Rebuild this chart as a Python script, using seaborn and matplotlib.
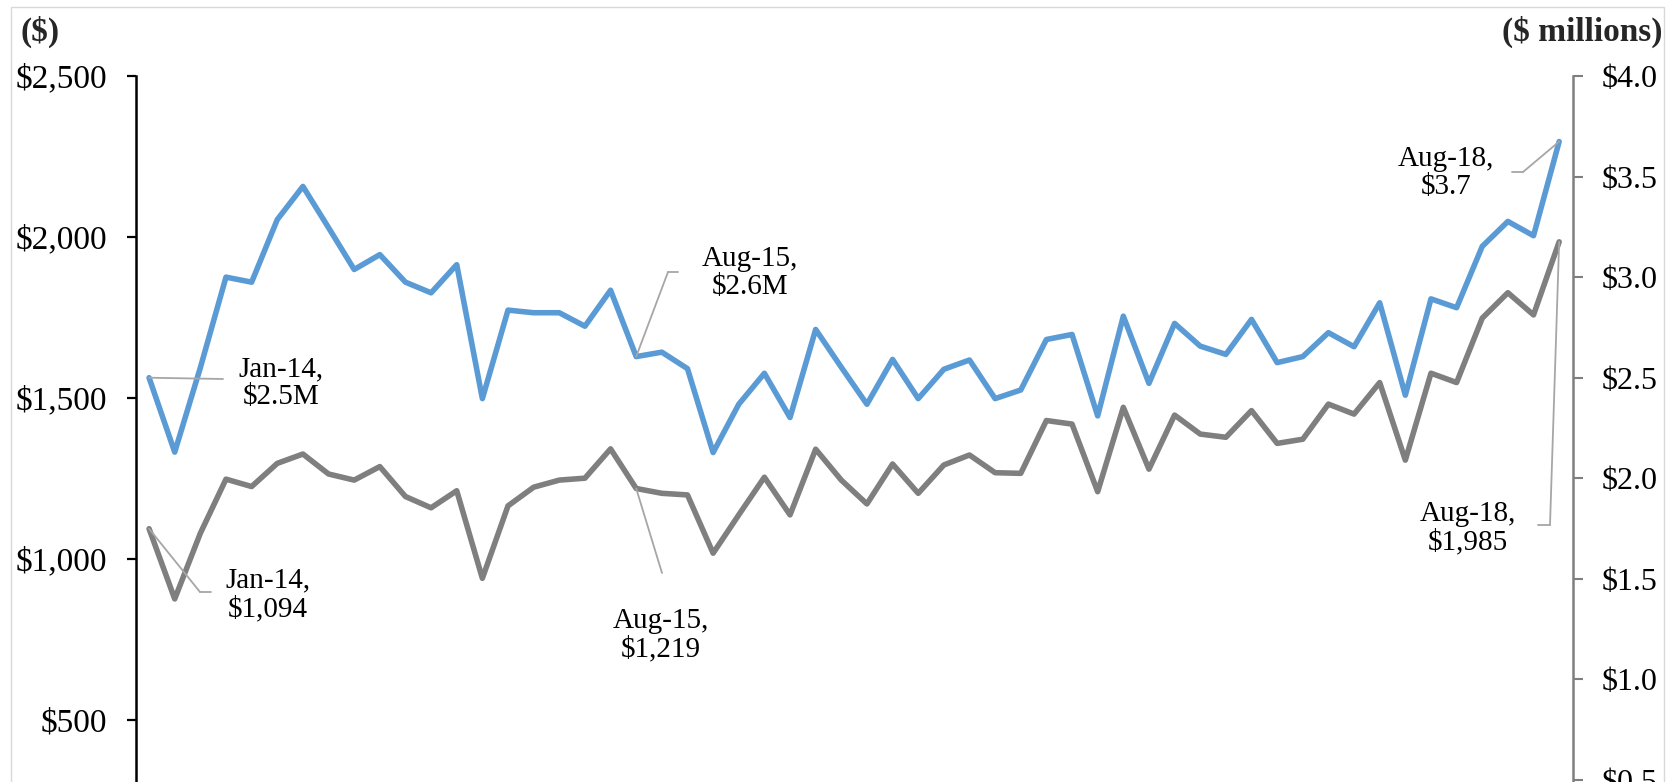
import numpy as np
import pandas as pd
import matplotlib
matplotlib.use("Agg")
import matplotlib.pyplot as plt
from matplotlib.lines import Line2D
from matplotlib.patches import Rectangle
import matplotlib.ticker as mticker
import seaborn as sns

# ---------------- data ----------------
months = pd.date_range("2014-01-01", periods=56, freq="MS").strftime("%b-%y").tolist()

# gray series, left axis ($)
avg_dollars = [1094, 876, 1080, 1248, 1225, 1297, 1326, 1264, 1245, 1287,
               1194, 1159, 1212, 940, 1165, 1223, 1245, 1251, 1342, 1219,
               1204, 1199, 1018, 1137, 1254, 1137, 1341, 1245, 1171, 1295,
               1204, 1292, 1323, 1268, 1266, 1430, 1419, 1209, 1471, 1279,
               1447, 1388, 1378, 1461, 1359, 1372, 1481, 1450, 1548, 1307,
               1577, 1548, 1748, 1827, 1758, 1985]

# blue series, right axis ($ millions)
total_millions = [2.50, 2.13, 2.55, 3.00, 2.975, 3.286, 3.451, 3.246, 3.038, 3.112,
                  2.975, 2.922, 3.062, 2.396, 2.836, 2.823, 2.823, 2.756, 2.935, 2.605,
                  2.627, 2.545, 2.128, 2.368, 2.522, 2.302, 2.740, 2.552, 2.368, 2.591,
                  2.396, 2.542, 2.588, 2.396, 2.439, 2.690, 2.715, 2.310, 2.806, 2.472,
                  2.770, 2.657, 2.616, 2.790, 2.575, 2.605, 2.724, 2.654, 2.8725, 2.413,
                  2.892, 2.848, 3.153, 3.277, 3.206, 3.674]

left_ticks = [500, 1000, 1500, 2000, 2500]
right_ticks = [0.5, 1.0, 1.5, 2.0, 2.5, 3.0, 3.5, 4.0]

# annotations: (series, month label, text, elbow px, tail end px, text center px) in image px (y from top)
annotations = [
    ("blue", "Jan-14", "Jan-14,\n$2.5M", (223, 379), None, (281, 383)),
    ("gray", "Jan-14", "Jan-14,\n$1,094", (200, 592), (211, 592), (268, 595)),
    ("blue", "Aug-15", "Aug-15,\n$2.6M", (668, 272), (678, 272), (750, 273)),
    ("gray", "Aug-15", "Aug-15,\n$1,219", (662, 573), None, (661, 635)),
    ("blue", "Aug-18", "Aug-18,\n$3.7", (1523, 172), (1512, 172), (1446, 173)),
    ("gray", "Aug-18", "Aug-18,\n$1,985", (1550, 525), (1538, 525), (1468, 528)),
]

df = pd.DataFrame({"month": months, "pos": np.arange(len(months)),
                   "avg": avg_dollars, "total": total_millions})

# ---------------- style ----------------
sns.set_style("white")
plt.rcParams["font.family"] = ["Liberation Serif", "DejaVu Serif"]

W, H = 1680, 782
fig = plt.figure(figsize=(W / 100, H / 100), dpi=100)
ax = fig.add_axes([136 / W, 0.0, (1573 - 136) / W, (H - 76) / H])
ax2 = ax.twinx()

BLUE = "#5B9BD5"
GRAY = "#7F7F7F"

sns.lineplot(data=df, x="pos", y="avg", ax=ax, color=GRAY, linewidth=4.0)
sns.lineplot(data=df, x="pos", y="total", ax=ax2, color=BLUE, linewidth=4.0)

ax.set_xlim(-0.51, 55.54)
ax.set_ylim(2500 - 706 * 500 / 161, 2500)
ax2.set_ylim(0.49, 4.0)

ax.set_yticks(left_ticks)
ax.yaxis.set_major_formatter(mticker.FuncFormatter(lambda v, p: f"${v:,.0f}"))
ax2.set_yticks(right_ticks)
ax2.yaxis.set_major_formatter(mticker.FuncFormatter(lambda v, p: f"${v:.1f}"))

for a in (ax, ax2):
    a.set_xlabel("")
    a.set_ylabel("")
    a.set_xticks([])
    a.spines["top"].set_visible(False)
    a.spines["bottom"].set_visible(False)
    a.grid(False)

ax.spines["right"].set_visible(False)
ax.spines["left"].set_color("black")
ax.spines["left"].set_linewidth(1.8)
ax2.spines["left"].set_visible(False)
ax2.spines["right"].set_color(GRAY)
ax2.spines["right"].set_linewidth(1.8)

ax.tick_params(axis="y", direction="out", length=6.5, width=1.6, color="black",
               pad=14, labelsize=24, labelcolor="black", left=True)
ax2.tick_params(axis="y", direction="out", length=7, width=1.5, color=GRAY,
                pad=13.5, labelsize=23, labelcolor="black", right=True)

# axis unit labels
fig.text(20 / W, 1 - 32 / H, "($)", fontsize=24, fontweight="bold", ha="left", va="center")
fig.text(1662 / W, 1 - 32 / H, "($ millions)", fontsize=24, fontweight="bold",
         ha="right", va="center")

# annotations with leader lines
LEADER = "#A6A6A6"
for series, mon, txt, elbow, tail, center in annotations:
    i = months.index(mon)
    if series == "blue":
        xy, trans = (i, total_millions[i]), ax2.transData
    else:
        xy, trans = (i, avg_dollars[i]), ax.transData
    ax2.annotate("", xy=xy, xycoords=trans,
                 xytext=(elbow[0], H - elbow[1]), textcoords="figure pixels",
                 arrowprops=dict(arrowstyle="-", color=LEADER, lw=1.3,
                                 shrinkA=0, shrinkB=0))
    if tail is not None:
        fig.add_artist(Line2D([elbow[0] / W, tail[0] / W],
                              [1 - elbow[1] / H, 1 - tail[1] / H],
                              color=LEADER, lw=1.3, transform=fig.transFigure))
    fig.text(center[0] / W, 1 - center[1] / H, txt, fontsize=21, ha="center",
             va="center", linespacing=1.08, color="black")

# light outer border
fig.add_artist(Rectangle((11 / W, -0.02), 1653 / W, (H - 7) / H + 0.02,
                         transform=fig.transFigure, fill=False,
                         edgecolor="#D9D9D9", lw=1.0))

fig.savefig("out.png", dpi=100)
